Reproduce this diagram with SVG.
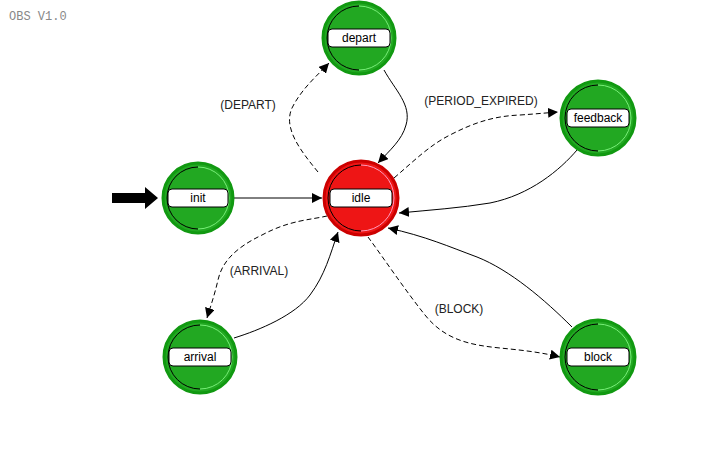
<svg xmlns="http://www.w3.org/2000/svg" width="710" height="464" viewBox="0 0 710 464">
<defs>
<style>
.st circle.o{fill:#22a822;stroke:#119911;stroke-width:3}
.st path.a{fill:none;stroke:#000;stroke-width:1}
.st path.b{fill:none;stroke:#77ee77;stroke-width:1}
.st.red circle.o{fill:#ee1515;stroke:#cc0000}
.st.red path.b{stroke:#ff99bb}
.st rect{fill:#fff;stroke:#000;stroke-width:1}
.st text{font-family:"Liberation Sans",Arial,sans-serif;font-size:12px;fill:#000;text-anchor:middle}
.e{fill:none;stroke:#000;stroke-width:1}
.d{stroke-dasharray:5,3}
.lbl{font-family:"Liberation Sans",Arial,sans-serif;font-size:12px;fill:#222;text-anchor:middle}
</style>
<marker id="ah" viewBox="0 0 10 10" refX="10" refY="5" markerWidth="10" markerHeight="10" markerUnits="userSpaceOnUse" orient="auto">
<path d="M0,0 L10,5 L0,10 z" fill="#000"/>
</marker>
</defs>
<rect width="710" height="464" fill="#fff"/>
<text x="9" y="20" font-family="Liberation Mono,monospace" font-size="12" fill="#888">OBS V1.0</text>

<g id="connectors">
<path class="e" d="M234,198 L322,198" marker-end="url(#ah)"/>
<path class="e d" d="M318,172 C300,150 283,128 292,108 C302,88 318,75 329,63" marker-end="url(#ah)"/>
<path class="e" d="M384,70 C395,90 412,105 406,125 C402,140 390,150 378,163" marker-end="url(#ah)"/>
<path class="e d" d="M394,178 C415,160 430,145 450,135 C475,122 495,116 520,115 C535,114 545,113 558,112" marker-end="url(#ah)"/>
<path class="e" d="M577,150 C560,170 530,195 490,203 C460,208 430,210 399,213" marker-end="url(#ah)"/>
<path class="e d" d="M327,216 C310,220 290,220 262,235 C235,248 222,262 218,280 C214,297 210,308 207,318" marker-end="url(#ah)"/>
<path class="e" d="M234,338 C260,330 295,315 310,295 C325,275 330,255 338,232" marker-end="url(#ah)"/>
<path class="e d" d="M368,237 C385,260 405,290 425,315 C445,340 470,345 500,348 C520,350 540,352 560,357" marker-end="url(#ah)"/>
<path class="e" d="M572,327 C545,300 510,270 477,257 C450,247 425,236 388,228" marker-end="url(#ah)"/>
<path d="M112,193 L145,193 L145,187 L158,198 L145,209 L145,203 L112,203 z" fill="#000"/>
</g>

<text class="lbl" x="248" y="109">(DEPART)</text>
<text class="lbl" x="481" y="105">(PERIOD_EXPIRED)</text>
<text class="lbl" x="259" y="275">(ARRIVAL)</text>
<text class="lbl" x="459" y="313">(BLOCK)</text>

<g id="depart" class="st" transform="translate(359,38)">
<circle class="o" r="36"/>
<path class="a" d="M0,-32 A32,32 0 0 0 0,32"/>
<path class="b" d="M0,-32 A32,32 0 0 1 0,32"/>
<rect x="-31" y="-9" width="62" height="18" rx="4"/>
<text y="4">depart</text>
</g>
<g id="idle" class="st red" transform="translate(361,198)">
<circle class="o" r="37"/>
<path class="a" d="M0,-33 A33,33 0 0 0 0,33"/>
<path class="b" d="M0,-33 A33,33 0 0 1 0,33"/>
<rect x="-31" y="-9" width="62" height="18" rx="4"/>
<text y="4">idle</text>
</g>
<g id="init" class="st" transform="translate(198,198)">
<circle class="o" r="35"/>
<path class="a" d="M0,-31 A31,31 0 0 0 0,31"/>
<path class="b" d="M0,-31 A31,31 0 0 1 0,31"/>
<rect x="-30" y="-9" width="60" height="18" rx="4"/>
<text y="4">init</text>
</g>
<g id="feedback" class="st" transform="translate(598,118)">
<circle class="o" r="37"/>
<path class="a" d="M0,-33 A33,33 0 0 0 0,33"/>
<path class="b" d="M0,-33 A33,33 0 0 1 0,33"/>
<rect x="-31" y="-9" width="62" height="18" rx="4"/>
<text y="4">feedback</text>
</g>
<g id="arrival" class="st" transform="translate(200,357)">
<circle class="o" r="36"/>
<path class="a" d="M0,-32 A32,32 0 0 0 0,32"/>
<path class="b" d="M0,-32 A32,32 0 0 1 0,32"/>
<rect x="-31" y="-9" width="62" height="18" rx="4"/>
<text y="4">arrival</text>
</g>
<g id="block" class="st" transform="translate(598,357)">
<circle class="o" r="37"/>
<path class="a" d="M0,-33 A33,33 0 0 0 0,33"/>
<path class="b" d="M0,-33 A33,33 0 0 1 0,33"/>
<rect x="-31" y="-9" width="62" height="18" rx="4"/>
<text y="4">block</text>
</g>
</svg>
